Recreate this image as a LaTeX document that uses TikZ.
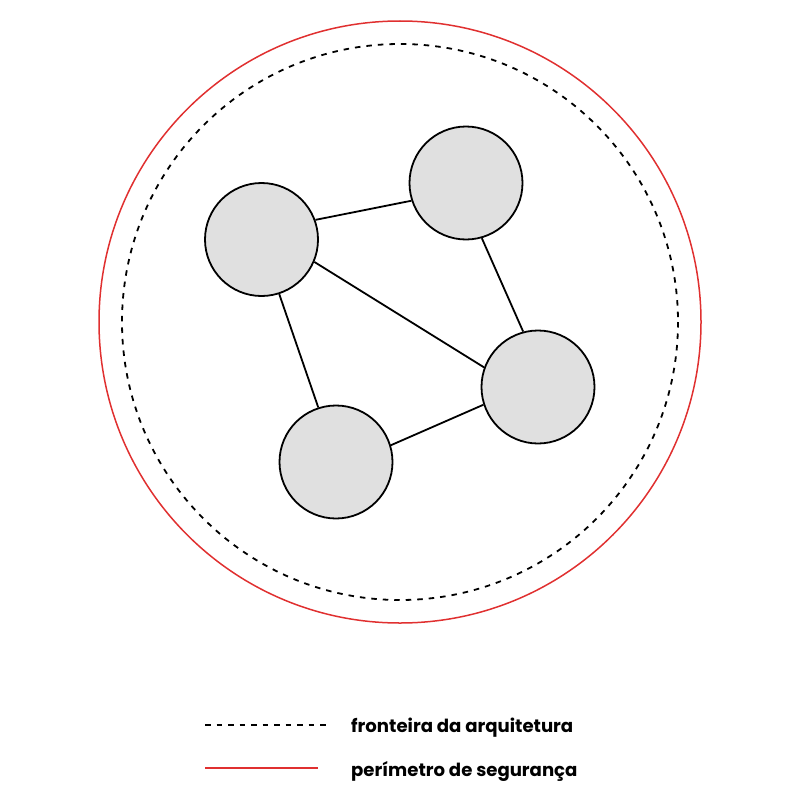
\documentclass[tikz,border=0pt]{standalone}
\usepackage{fontspec}
\setmainfont{Poppins}
\definecolor{redline}{HTML}{E03030}
\definecolor{nodefill}{HTML}{E0E0E0}
\begin{document}
\begin{tikzpicture}[x=1pt,y=-1pt,
  peer/.style={circle,draw=black,fill=nodefill,line width=1.8pt,minimum size=113pt,inner sep=0pt},
  link/.style={line width=1.8pt,black},
  boundary/.style={line width=1.8pt,black,dash pattern=on 5.5pt off 6pt},
  perimeter/.style={line width=1.5pt,redline},
  legendtext/.style={anchor=west,font=\fontsize{18.1}{21}\selectfont\bfseries,inner sep=0pt}]
\useasboundingbox (0,0) rectangle (800,800);
\draw[perimeter] (400,322) circle (301);
\draw[boundary] (400,322) circle (278);
\node[peer] (n1) at (261.5,239.5) {};
\node[peer] (n2) at (466,183) {};
\node[peer] (n3) at (538,387) {};
\node[peer] (n4) at (336,462) {};
\draw[link] (n1.20.6) -- (n2.198.7);
\draw[link] (n1.-23) -- (n3.160);
\draw[link] (n2.-74) -- (n3.105);
\draw[link] (n1.-72) -- (n4.108);
\draw[link] (n4.17.8) -- (n3.198);
\coordinate (l1a) at (205,725);
\coordinate (l1b) at (331,725);
\coordinate (l2a) at (205,768);
\coordinate (l2b) at (318,768);
\draw[boundary] (l1a) -- (l1b);
\draw[perimeter] (l2a) -- (l2b);
\node[legendtext] (t1) at (351,728) {fronteira da arquitetura};
\node[legendtext] (t2) at (351,771) {perímetro de segurança};
\end{tikzpicture}
\end{document}
